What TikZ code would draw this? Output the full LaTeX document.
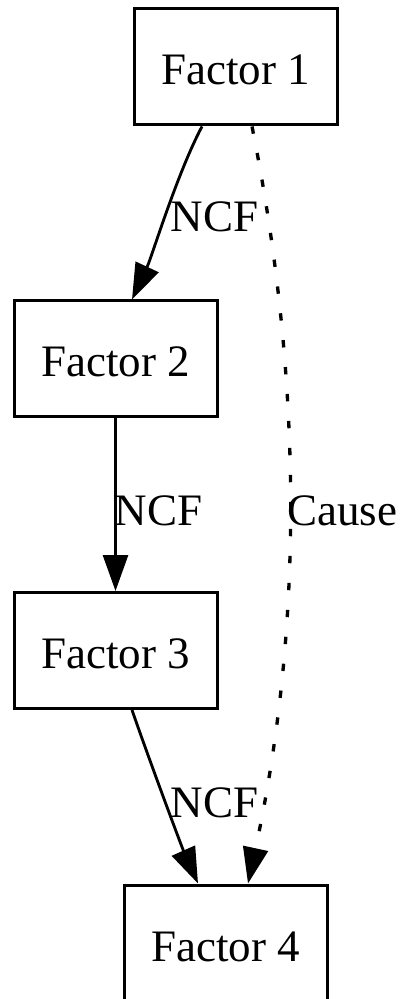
\documentclass[tikz,border=0pt]{standalone}
\usepackage{fontspec}
\setmainfont{Liberation Serif}
\usetikzlibrary{arrows.meta,calc}

\begin{document}
\begin{tikzpicture}[x=0.3pt,y=-0.3pt,
  factor/.style={draw, line width=0.9pt, minimum width=60.9pt, minimum height=34.8pt,
    inner sep=0pt, text height=10.8pt, text depth=0pt, font=\fontsize{13.5}{16}\selectfont},
  lbl/.style={inner sep=0pt, anchor=base, font=\fontsize{13.5}{16}\selectfont},
  link/.style={line width=0.85pt, -{Triangle[length=10.8pt,width=7.5pt]}},
  causal/.style={link, line width=1pt, dash pattern=on 2.2pt off 5.9pt}]
\useasboundingbox (0,0) rectangle (403,999);

% the four factors
\node[factor] (f1) at (235.5,67)  {Factor 1};
\node[factor] (f2) at (115.5,359) {Factor 2};
\node[factor] (f3) at (115.5,650.5) {Factor 3};
\node[factor] (f4) at (225.5,943) {Factor 4};

% NCF chain
\draw[link] ($(f1.south)+(-33.5,0)$) .. controls +(-25,47) and +(20,-43) .. ($(f2.north)+(16.5,0)$);
\draw[link] (f2.south) -- (f3.north);
\draw[link] ($(f3.south)+(16.5,0)$) .. controls +(18,52) and +(-16,-36) .. ($(f4.north)+(-27.5,0)$);

% overall cause
\draw[causal] ($(f1.south)+(16.5,0)$) .. controls +(51,255) and +(55,-255) .. ($(f4.north)+(22.5,0)$);

% edge labels
\node[lbl] (l12) at (214.5,232) {NCF};
\node[lbl] (l23) at (158.5,525) {NCF};
\node[lbl] (l34) at (214.5,817) {NCF};
\node[lbl] (l14) at (342,525) {Cause};
\end{tikzpicture}
\end{document}
